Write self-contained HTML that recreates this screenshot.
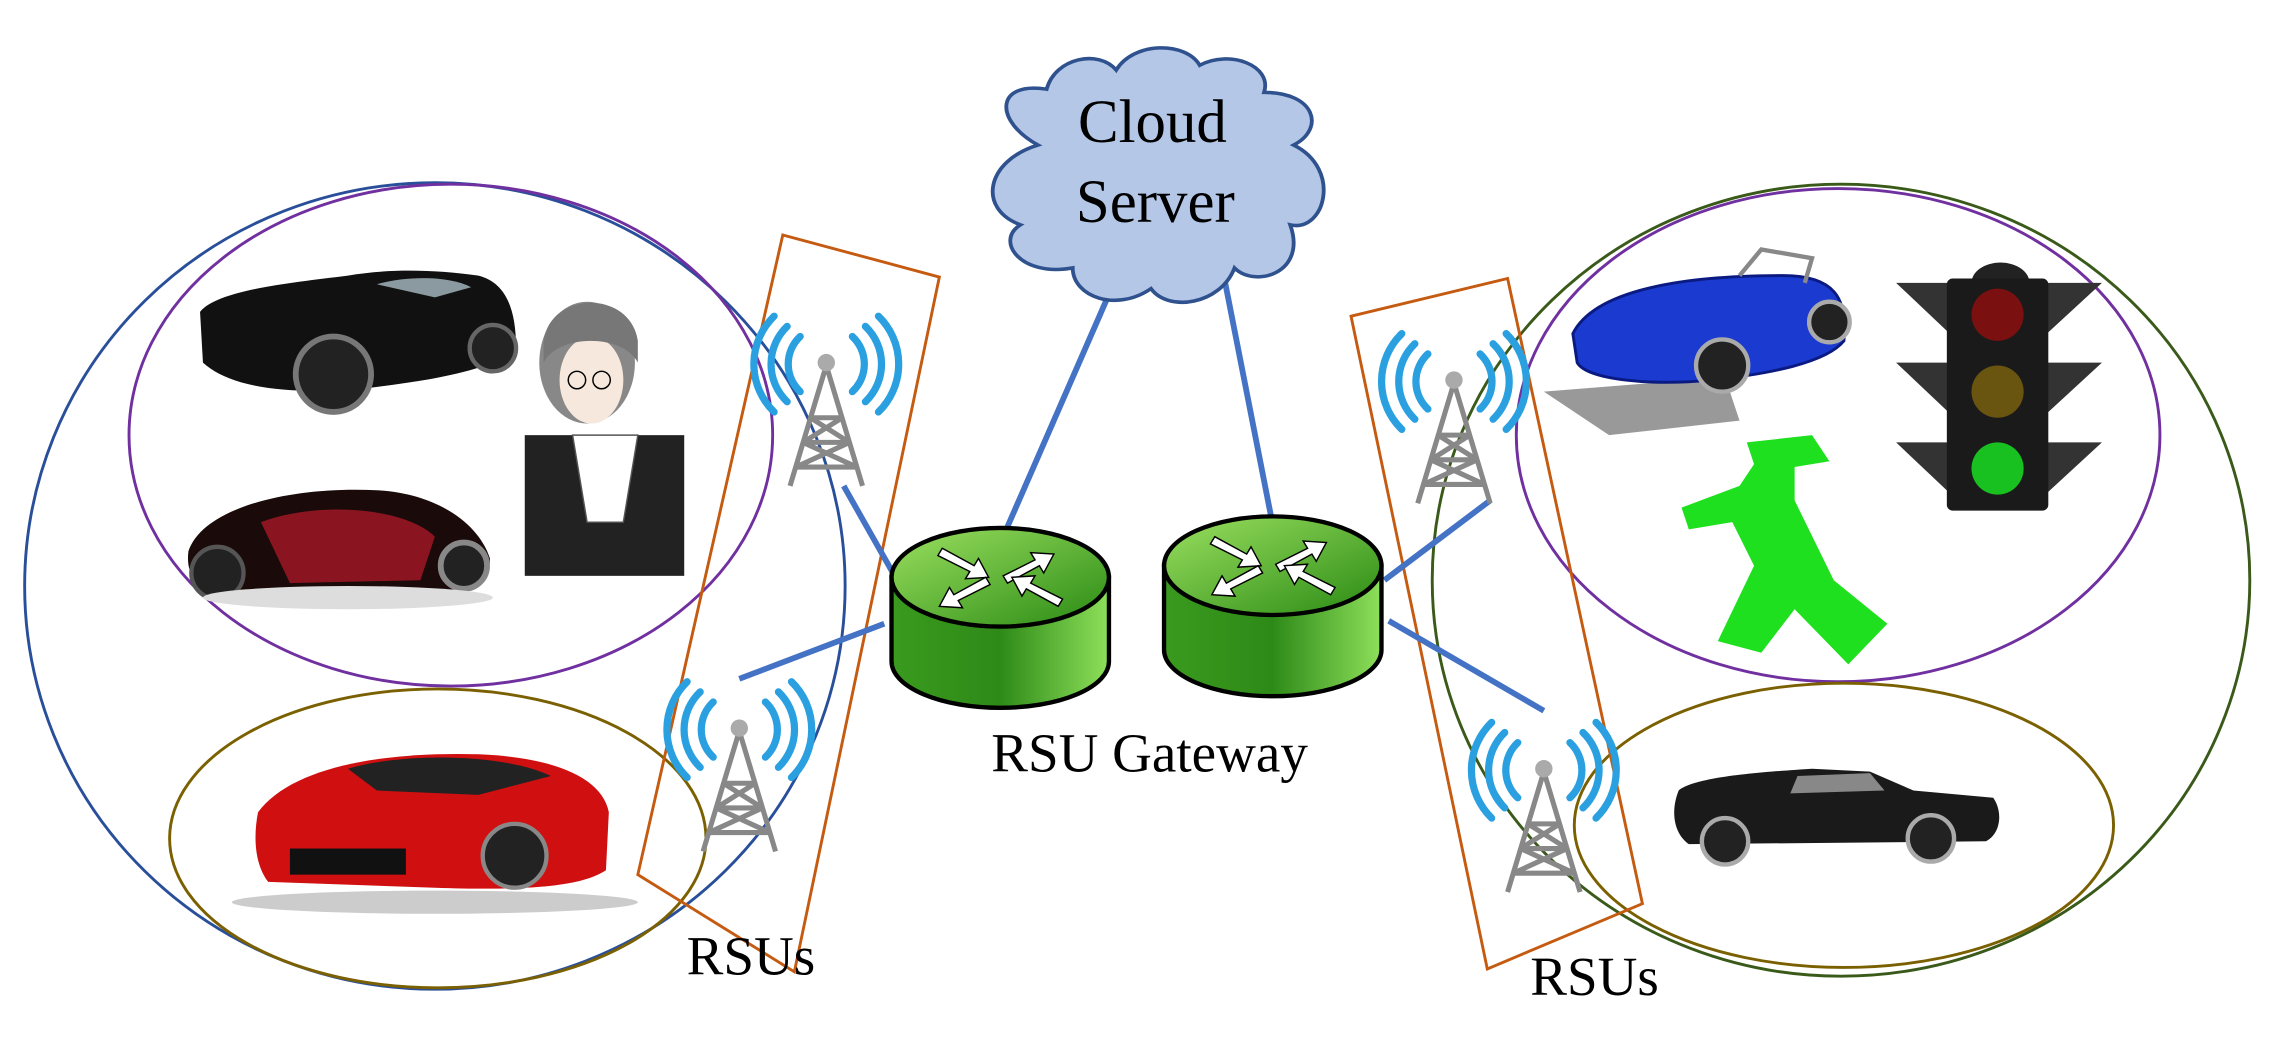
<!DOCTYPE html>
<html><head><meta charset="utf-8"><style>
html,body{margin:0;padding:0;background:#fff;}
svg{display:block;}
</style></head><body>
<svg width="2273" height="1040" viewBox="0 0 1568 717" preserveAspectRatio="none" xmlns="http://www.w3.org/2000/svg">
<defs>
<linearGradient id="rg" x1="0" x2="1" y1="0" y2="0"><stop offset="0" stop-color="#3a9a1e"/><stop offset="0.5" stop-color="#2e8a18"/><stop offset="1" stop-color="#8ee05a"/></linearGradient>
<linearGradient id="rt" x1="0" x2="1" y1="0" y2="1"><stop offset="0" stop-color="#9be060"/><stop offset="1" stop-color="#2a8a14"/></linearGradient>
<g id="tower">
<path d="M-18,-38 A26,26 0 0,0 -18,0 M-27,-45 A36,36 0 0,0 -27,7 M-36,-52 A46,46 0 0,0 -36,14" fill="none" stroke="#2aa0e0" stroke-width="5" stroke-linecap="round"/>
<path d="M18,-38 A26,26 0 0,1 18,0 M27,-45 A36,36 0 0,1 27,7 M36,-52 A46,46 0 0,1 36,14" fill="none" stroke="#2aa0e0" stroke-width="5" stroke-linecap="round"/>
<path d="M0,-18 L-25,65 M0,-18 L25,65 M-11,18 L11,18 M-16,35 L16,35 M-21,52 L21,52 M-11,18 L16,35 M11,18 L-16,35 M-16,35 L21,52 M16,35 L-21,52" stroke="#888" stroke-width="3.5" fill="none"/>
<circle cx="0" cy="-20" r="6" fill="#aaa"/>
</g>
<g id="router">
<path d="M-75,0 L-75,58 A75,32 0 0,0 75,58 L75,0 Z" fill="url(#rg)" stroke="#000" stroke-width="3"/>
<ellipse cx="0" cy="0" rx="75" ry="34" fill="url(#rt)" stroke="#000" stroke-width="3"/>
<g stroke="#000" stroke-width="1" fill="#fff">
<path d="M-40,-20 L-18,-8 L-15,-13 L-8,0 L-24,1 L-21,-4 L-43,-15Z"/>
<path d="M40,-20 L18,-8 L15,-13 L8,0 L24,1 L21,-4 L43,-15Z" transform="translate(-5,0) rotate(180 25 -8)"/>
<path d="M-40,20 L-18,8 L-15,13 L-8,0 L-24,-1 L-21,4 L-43,15Z" transform="rotate(180 -25 10)"/>
<path d="M40,20 L18,8 L15,13 L8,0 L24,-1 L21,4 L43,15Z"/>
</g>
</g>
</defs>

<ellipse cx="300" cy="404" rx="283" ry="278" fill="none" stroke="#2a4f9a" stroke-width="2"/>
<ellipse cx="311" cy="300" rx="222" ry="173" fill="none" stroke="#7030a0" stroke-width="2"/>
<ellipse cx="302" cy="578" rx="185" ry="103" fill="none" stroke="#7a6000" stroke-width="2"/>
<ellipse cx="1270" cy="400" rx="282" ry="273" fill="none" stroke="#3a5a1a" stroke-width="2"/>
<ellipse cx="1268" cy="300" rx="222" ry="170" fill="none" stroke="#7030a0" stroke-width="2"/>
<ellipse cx="1272" cy="569" rx="186" ry="98" fill="none" stroke="#7a6000" stroke-width="2"/>

<polygon points="540,162 648,191 548,670 440,603" fill="none" stroke="#c55a11" stroke-width="2"/>
<polygon points="932,218 1040,192 1133,623 1026,668" fill="none" stroke="#c55a11" stroke-width="2"/>

<g stroke="#4472c4" stroke-width="4">
<line x1="768" y1="196" x2="692" y2="370"/>
<line x1="845" y1="194" x2="878" y2="362"/>
<line x1="582" y1="335" x2="616" y2="395"/>
<line x1="510" y1="468" x2="610" y2="430"/>
<line x1="955" y1="400" x2="1028" y2="345"/>
<line x1="958" y1="428" x2="1065" y2="490"/>
</g>

<g transform="translate(800,122) scale(1.2,1.1) translate(-795,-115)">
<path d="M725,95 C700,80 700,55 730,60 C735,40 760,35 770,48 C780,30 810,30 818,45 C835,35 860,45 855,62 C885,62 890,85 872,95 C900,110 890,150 870,145 C880,175 850,185 838,172 C830,195 800,200 790,185 C770,200 745,190 745,172 C715,178 700,155 715,145 C690,135 695,105 725,95 Z" fill="#b4c7e7" stroke="#2f528f" stroke-width="2.2"/>
</g>
<text x="795" y="98" font-family="Liberation Serif, serif" font-size="42" text-anchor="middle">Cloud</text>
<text x="797" y="153" font-family="Liberation Serif, serif" font-size="42" text-anchor="middle">Server</text>

<use href="#router" x="690" y="398"/>
<use href="#router" x="878" y="390"/>

<text x="793" y="532" font-family="Liberation Serif, serif" font-size="38" text-anchor="middle">RSU Gateway</text>
<text x="518" y="672" font-family="Liberation Serif, serif" font-size="38" text-anchor="middle">RSUs</text>
<text x="1100" y="686" font-family="Liberation Serif, serif" font-size="38" text-anchor="middle">RSUs</text>

<use href="#tower" x="570" y="270"/>
<use href="#tower" x="510" y="522"/>
<use href="#tower" x="1003" y="282"/>
<use href="#tower" x="1065" y="550"/>

<g>
<path d="M138,215 C150,200 200,195 240,190 C270,185 300,186 330,190 C350,195 356,215 356,240 C340,255 300,262 250,268 C200,272 160,268 140,250 Z" fill="#111"/>
<path d="M260,196 C280,190 310,190 325,198 L300,205 Z" fill="#8a9aa0"/>
<circle cx="230" cy="258" r="26" fill="#222" stroke="#777" stroke-width="4"/>
<circle cx="340" cy="240" r="16" fill="#222" stroke="#666" stroke-width="3"/>
</g>
<g>
<path d="M130,380 C140,350 200,335 260,338 C300,340 330,360 338,385 C338,405 320,412 290,412 L150,410 C135,405 128,395 130,380 Z" fill="#1a0a0a"/>
<path d="M180,360 C220,345 280,350 300,370 L290,400 L200,402 Z" fill="#8a1520"/>
<circle cx="150" cy="395" r="18" fill="#222" stroke="#555" stroke-width="3"/>
<circle cx="320" cy="390" r="16" fill="#222" stroke="#888" stroke-width="4"/>
<ellipse cx="240" cy="412" rx="100" ry="8" fill="#ddd"/>
</g>
<g>
<rect x="362" y="300" width="110" height="97" fill="#222"/>
<path d="M395,300 L440,300 L430,360 L405,360 Z" fill="#fff" stroke="#555"/>
<ellipse cx="405" cy="250" rx="33" ry="42" fill="#888"/>
<ellipse cx="408" cy="262" rx="22" ry="30" fill="#f6e8dc"/>
<path d="M375,235 C380,200 435,200 440,235 L440,250 C430,230 385,230 375,250Z" fill="#777"/>
<circle cx="398" cy="262" r="6" fill="none" stroke="#000"/>
<circle cx="415" cy="262" r="6" fill="none" stroke="#000"/>
</g>
<g>
<path d="M178,560 C200,530 260,518 330,520 C380,522 415,535 420,560 L418,600 C400,612 360,614 300,612 L185,608 C175,595 175,575 178,560 Z" fill="#d01010"/>
<path d="M240,530 C280,518 350,520 380,535 L330,548 L260,545Z" fill="#222"/>
<rect x="200" y="585" width="80" height="18" fill="#111"/>
<circle cx="355" cy="590" r="22" fill="#222" stroke="#888" stroke-width="3"/>
<ellipse cx="300" cy="622" rx="140" ry="8" fill="#ccc"/>
</g>
<g>
<path d="M1065,270 L1110,300 L1200,290 L1190,260 Z" fill="#999"/>
<path d="M1085,230 C1100,200 1160,190 1230,190 C1265,190 1275,205 1272,235 C1260,250 1220,258 1180,262 C1140,266 1095,262 1088,250 Z" fill="#1a3ad0" stroke="#0a1a80" stroke-width="2"/>
<circle cx="1188" cy="252" r="18" fill="#222" stroke="#aaa" stroke-width="3"/>
<circle cx="1262" cy="222" r="14" fill="#222" stroke="#aaa" stroke-width="3"/>
<path d="M1200,190 L1215,172 L1250,178 L1245,195" fill="none" stroke="#888" stroke-width="3"/>
</g>
<g>
<path d="M1308,195 L1345,195 L1345,230 Z M1412,195 L1450,195 L1412,230 Z M1308,250 L1345,250 L1345,285 Z M1412,250 L1450,250 L1412,285 Z M1308,305 L1345,305 L1345,340 Z M1412,305 L1450,305 L1412,340 Z" fill="#333"/>
<path d="M1360,195 A20,14 0 0,1 1400,195 Z" fill="#222"/>
<rect x="1343" y="192" width="70" height="160" rx="4" fill="#1a1a1a"/>
<circle cx="1378" cy="217" r="18" fill="#7a1010"/>
<circle cx="1378" cy="270" r="18" fill="#6a5510"/>
<circle cx="1378" cy="323" r="18" fill="#18c020"/>
</g>
<path d="M1205,305 L1250,300 L1262,318 L1238,322 L1238,345 L1265,400 L1302,430 L1275,458 L1238,420 L1215,450 L1185,442 L1210,390 L1195,360 L1165,365 L1160,350 L1200,335 L1210,320 Z" fill="#1ee01e"/>
<g>
<path d="M1158,545 C1170,535 1220,532 1250,530 L1290,532 L1320,545 L1375,550 C1382,560 1380,575 1370,580 L1165,582 C1155,575 1152,560 1158,545 Z" fill="#1a1a1a"/>
<path d="M1240,535 L1290,533 L1300,545 L1235,547Z" fill="#888"/>
<circle cx="1190" cy="580" r="16" fill="#222" stroke="#aaa" stroke-width="3"/>
<circle cx="1332" cy="578" r="16" fill="#222" stroke="#aaa" stroke-width="3"/>
</g>
</svg>
</body></html>
